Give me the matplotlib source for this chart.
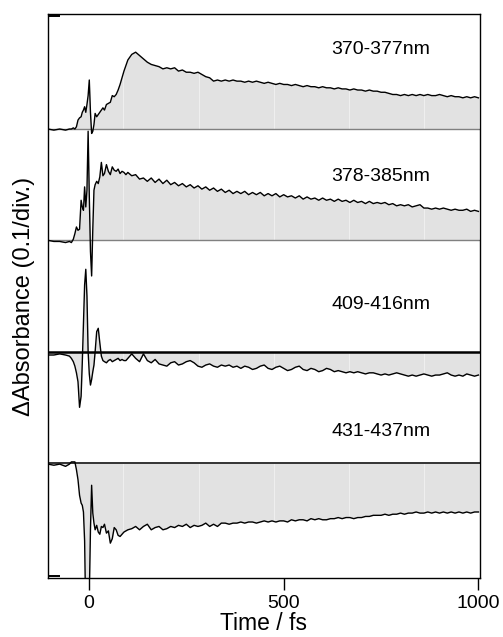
import matplotlib
matplotlib.use("Agg")
import matplotlib.pyplot as plt

plt.rcParams['font.family'] = ['Liberation Sans', 'DejaVu Sans']

# time grid (fs): dense near time zero, then every 10 fs
t_early = [-105, -90, -75, -60, -50, -45, -40, -36, -32, -28, -24, -20, -17, -14,
           -11, -8, -5, -2, 1, 4, 7, 10, 13, 16, 20, 24, 28, 32, 36, 40, 45, 50,
           55, 60, 65, 70, 75, 80, 85, 90, 95, 100]
t_late = list(range(110, 1001, 10))
time_fs = t_early + t_late

labels = ['370-377nm', '378-385nm', '409-416nm', '431-437nm']
offsets = [0.3, 0.2, 0.1, 0.0]
label_y = [0.371, 0.257, 0.142, 0.028]

da_370 = [
    0.000, -0.001, 0.000, -0.001, 0.000, 0.000, 0.001, 0.000, 0.002, 0.008,
    0.010, 0.011, 0.015, 0.017, 0.020, 0.015, 0.022, 0.030, 0.044, 0.015,
    -0.004, -0.002, 0.004, 0.014, 0.011, 0.013, 0.015, 0.017, 0.019, 0.017,
    0.022, 0.023, 0.024, 0.030, 0.029, 0.031, 0.035, 0.040, 0.046, 0.052,
    0.057, 0.062,
    0.067, 0.069, 0.066, 0.063, 0.060, 0.058, 0.057, 0.056, 0.054, 0.055,
    0.054, 0.055, 0.052, 0.053, 0.051, 0.051, 0.050, 0.051, 0.049, 0.047,
    0.046, 0.043, 0.044, 0.043, 0.044, 0.043, 0.044, 0.043, 0.043, 0.042,
    0.043, 0.042, 0.043, 0.042, 0.041, 0.042, 0.041, 0.040, 0.041, 0.040,
    0.040, 0.039, 0.040, 0.039, 0.038, 0.039, 0.038, 0.038, 0.037, 0.038,
    0.037, 0.037, 0.036, 0.037, 0.036, 0.036, 0.035, 0.036, 0.035, 0.035,
    0.034, 0.035, 0.034, 0.034, 0.033, 0.033, 0.032, 0.031, 0.031, 0.030,
    0.031, 0.030, 0.031, 0.030, 0.031, 0.030, 0.031, 0.030, 0.030, 0.031,
    0.030, 0.029, 0.030, 0.029, 0.029, 0.028, 0.029, 0.028, 0.029, 0.028]

da_378 = [
    0.000, -0.001, -0.001, -0.002, -0.001, -0.002, 0.001, 0.006, 0.012, 0.009,
    0.010, 0.036, 0.030, 0.027, 0.048, 0.030, 0.045, 0.098, 0.040, -0.010,
    -0.032, 0.010, 0.045, 0.050, 0.053, 0.051, 0.057, 0.070, 0.058, 0.060,
    0.068, 0.062, 0.059, 0.066, 0.063, 0.062, 0.064, 0.060, 0.062, 0.061,
    0.059, 0.061,
    0.058, 0.059, 0.055, 0.056, 0.053, 0.056, 0.052, 0.055, 0.051, 0.054,
    0.050, 0.052, 0.049, 0.051, 0.048, 0.050, 0.047, 0.049, 0.046, 0.048,
    0.045, 0.047, 0.044, 0.046, 0.043, 0.045, 0.042, 0.044, 0.042, 0.044,
    0.041, 0.043, 0.041, 0.043, 0.040, 0.042, 0.040, 0.042, 0.039, 0.041,
    0.039, 0.040, 0.038, 0.040, 0.037, 0.039, 0.037, 0.038, 0.036, 0.038,
    0.036, 0.037, 0.035, 0.037, 0.035, 0.036, 0.034, 0.036, 0.034, 0.035,
    0.033, 0.035, 0.033, 0.034, 0.033, 0.034, 0.032, 0.033, 0.031, 0.032,
    0.031, 0.032, 0.030, 0.031, 0.032, 0.029, 0.029, 0.028, 0.029, 0.028,
    0.029, 0.028, 0.027, 0.028, 0.027, 0.027, 0.028, 0.026, 0.027, 0.026]

da_409 = [
    -0.003, -0.003, -0.002, -0.003, -0.004, -0.006, -0.009, -0.013, -0.019, -0.027,
    -0.050, -0.040, -0.010, 0.025, 0.060, 0.074, 0.050, 0.000, -0.020, -0.030,
    -0.025, -0.018, -0.012, 0.000, 0.018, 0.021, 0.008, -0.004, -0.008, -0.009,
    -0.010, -0.008, -0.007, -0.009, -0.008, -0.007, -0.006, -0.008, -0.007, -0.008,
    -0.008, -0.006,
    -0.002, -0.006, -0.009, -0.002, -0.008, -0.010, -0.007, -0.011, -0.012, -0.013,
    -0.010, -0.009, -0.012, -0.011, -0.009, -0.008, -0.010, -0.013, -0.014, -0.012,
    -0.011, -0.013, -0.014, -0.012, -0.013, -0.012, -0.014, -0.013, -0.015, -0.013,
    -0.014, -0.016, -0.015, -0.013, -0.012, -0.015, -0.016, -0.014, -0.013, -0.015,
    -0.017, -0.016, -0.014, -0.013, -0.016, -0.017, -0.015, -0.016, -0.018, -0.017,
    -0.015, -0.016, -0.018, -0.017, -0.018, -0.019, -0.018, -0.019, -0.018, -0.019,
    -0.020, -0.019, -0.019, -0.020, -0.021, -0.020, -0.021, -0.020, -0.019, -0.020,
    -0.021, -0.022, -0.021, -0.022, -0.021, -0.020, -0.021, -0.022, -0.021, -0.021,
    -0.020, -0.019, -0.021, -0.022, -0.021, -0.022, -0.020, -0.021, -0.022, -0.021]

da_431 = [
    -0.001, -0.002, -0.001, -0.003, -0.001, 0.001, 0.001, 0.001, -0.006, -0.015,
    -0.029, -0.036, -0.038, -0.044, -0.070, -0.140, -0.160, -0.150, -0.120, -0.060,
    -0.020, -0.045, -0.054, -0.060, -0.056, -0.062, -0.064, -0.057, -0.058, -0.055,
    -0.063, -0.061, -0.072, -0.068, -0.058, -0.060, -0.065, -0.066, -0.064, -0.062,
    -0.061, -0.060,
    -0.059, -0.057, -0.060, -0.057, -0.055, -0.060, -0.058, -0.057, -0.060, -0.059,
    -0.057, -0.058, -0.056, -0.057, -0.055, -0.058, -0.056, -0.057, -0.056, -0.054,
    -0.057, -0.055, -0.057, -0.054, -0.054, -0.055, -0.054, -0.054, -0.053, -0.054,
    -0.053, -0.053, -0.054, -0.053, -0.052, -0.053, -0.052, -0.053, -0.052, -0.052,
    -0.053, -0.051, -0.052, -0.051, -0.051, -0.052, -0.050, -0.051, -0.050, -0.051,
    -0.051, -0.050, -0.050, -0.049, -0.050, -0.049, -0.049, -0.050, -0.049, -0.049,
    -0.048, -0.048, -0.047, -0.047, -0.047, -0.046, -0.047, -0.046, -0.046, -0.045,
    -0.046, -0.045, -0.045, -0.044, -0.045, -0.045, -0.044, -0.045, -0.044, -0.045,
    -0.044, -0.045, -0.044, -0.045, -0.044, -0.045, -0.044, -0.045, -0.044, -0.044]

traces = [da_370, da_378, da_409, da_431]

# faint seams in the grey fill of the original
seams_fs = [87, 283, 476, 668, 861]

fig = plt.figure(figsize=(5.03, 6.37), dpi=100)
ax = fig.add_axes([48/503, 1 - 578/637, 432/503, 564/637])

base_style = [('#808080', 1.0), ('#808080', 1.0), ('black', 1.8), ('#333333', 1.4)]
for vals, off, lab, ly, (bc, blw) in zip(traces, offsets, labels, label_y, base_style):
    y = [off + v for v in vals]
    ax.fill_between(time_fs, off, y, color='#e2e2e2', lw=0, zorder=1)
    ax.plot(time_fs, y, color='black', lw=1.0, zorder=3)
    ax.axhline(off, color=bc, lw=blw, zorder=2.5)
    ax.text(622, ly, lab, fontsize=14, va='center', ha='left')

for s in seams_fs:
    ax.axvline(s, color='white', lw=0.8, alpha=0.45, zorder=2)

ax.set_xlim(-105, 1004)
ax.set_ylim(-0.1033, 0.4033)
ax.set_xticks([0, 500, 1000])
ax.tick_params(axis='x', direction='out', length=8.5, width=1.0, labelsize=14, pad=4)
ax.set_yticks([-0.1015, 0.4015])
ax.tick_params(axis='y', direction='in', length=8.6, width=1.4, labelleft=False)
for sp in ax.spines.values():
    sp.set_linewidth(1.0)

ax.set_xlabel('Time / fs', fontsize=16.5, labelpad=0)
ax.set_ylabel('ΔAbsorbance (0.1/div.)', fontsize=17, labelpad=9)

fig.savefig('out.png', dpi=100)
